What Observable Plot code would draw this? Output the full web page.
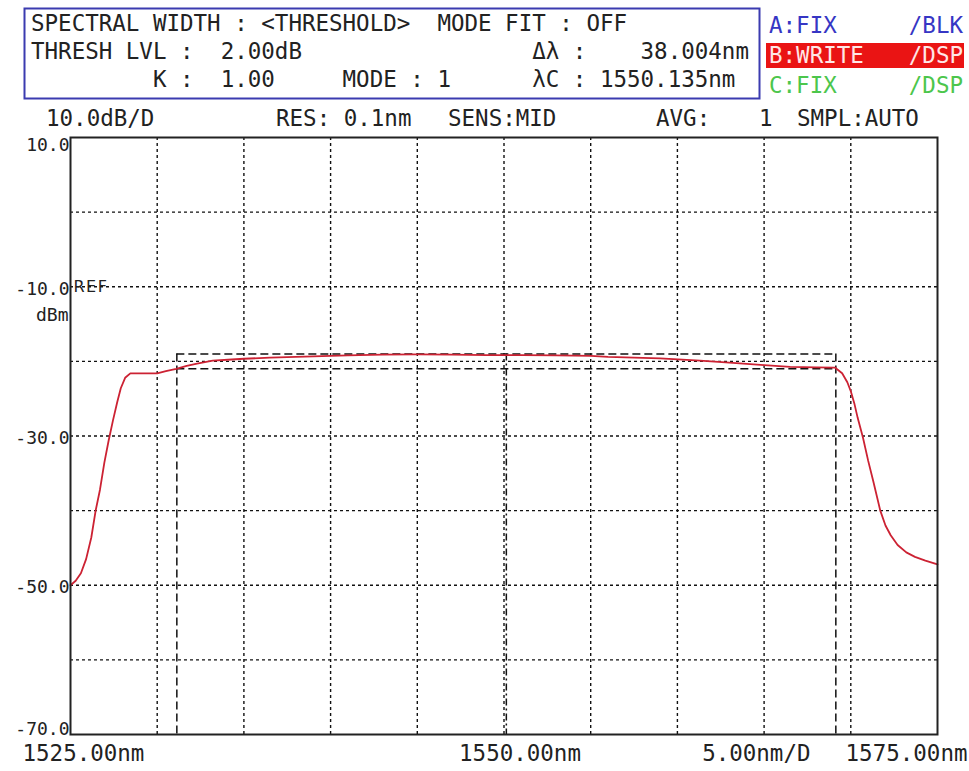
<!DOCTYPE html>
<html>
<head>
<meta charset="utf-8">
<script src="https://cdn.jsdelivr.net/npm/d3@7"></script>
<script src="https://cdn.jsdelivr.net/npm/@observablehq/plot@0.6"></script>
<style>
  body { margin: 0; background: #fff; }
  #chart { width: 969px; background: #fff; }
  #chart svg { display: block; }
</style>
</head>
<body>
<div id="chart"></div>
<script>
// ---------- data ----------
const wavelengths = [
  1525.00, 1525.30, 1525.60, 1525.90, 1526.20, 1526.45, 1526.70, 1526.95, 1527.20, 1527.45,
  1527.70, 1527.90, 1528.15, 1528.45, 1530.00, 1530.50, 1531.10, 1531.70, 1532.30, 1533.20,
  1534.30, 1535.00, 1536.50, 1538.00, 1539.50, 1541.00, 1543.00, 1545.00, 1547.00, 1549.00,
  1551.00, 1553.00, 1555.00, 1556.00, 1559.00, 1561.30, 1563.20, 1565.00, 1566.50, 1568.00,
  1569.10, 1569.50, 1569.80, 1570.00, 1570.20, 1570.40, 1570.70, 1571.00, 1571.30, 1571.70,
  1572.00, 1572.30, 1572.70, 1573.20, 1573.70, 1574.30, 1575.00
];
const powers = [
  -50.0, -49.4, -48.4, -46.5, -43.6, -40.0, -37.2, -33.6, -30.6, -27.9,
  -25.4, -23.6, -22.2, -21.6, -21.6, -21.3, -21.0, -20.6, -20.3, -19.9,
  -19.75, -19.65, -19.5, -19.4, -19.3, -19.2, -19.1, -19.05, -19.1, -19.15,
  -19.15, -19.2, -19.25, -19.4, -19.6, -19.9, -20.2, -20.5, -20.75, -20.8,
  -20.85, -21.6, -22.8, -24.0, -25.6, -27.6, -30.2, -33.3, -36.1, -40.0,
  -42.0, -43.3, -44.6, -45.6, -46.2, -46.7, -47.2
];

const xDomain = [1525, 1575];
const yDomain = [-70, 10];
const xGridTicks = [1530, 1535, 1540, 1545, 1550, 1555, 1560, 1565, 1570];
const yGridTicks = [0, -10, -20, -30, -40, -50, -60];
const yTickValues = [10, -10, -30, -50, -70];
const yTickLabels = ["10.0", "-10.0", "-30.0", "-50.0", "-70.0"];
const xTickValues = [1525, 1550, 1575];
const xTickLabels = ["1525.00nm", "1550.00nm", "1575.00nm"];
const xScaleLabel = "5.00nm/D";
const yUnit = "dBm";
const refLabel = "REF";
const refLevel = -10;

const centerWavelength = 1550.135;
const spectralWidth = 38.004;
const peakLevel = -19.0;
const threshLevel = 2.0;

const boxRows = [
  "SPECTRAL WIDTH : <THRESHOLD>  MODE FIT : OFF",
  "THRESH LVL :  2.00dB                 Δλ :    38.004nm",
  "         K :  1.00     MODE : 1      λC : 1550.135nm"
];
const statusItems = ["10.0dB/D", "RES: 0.1nm", "SENS:MID", "AVG:", "1", "SMPL:AUTO"];
const traceNames = ["A:FIX", "B:WRITE", "C:FIX"];
const traceModes = ["/BLK", "/DSP", "/DSP"];

// ---------- header (above the plot SVG) ----------
const mono = "'DejaVu Sans Mono', monospace";
const headerHeight = 134;
const header = d3.create("svg")
  .attr("width", 969).attr("height", headerHeight)
  .style("font-family", mono).style("font-size", "22.5px");

header.append("rect")
  .attr("x", 24.5).attr("y", 8.5).attr("width", 735).attr("height", 90)
  .attr("fill", "none").attr("stroke", "#3b3bb0").attr("stroke-width", 2);

const rowBaselines = [31, 59, 87];
boxRows.forEach((t, i) => {
  header.append("text")
    .attr("x", 31).attr("y", rowBaselines[i])
    .style("white-space", "pre").attr("fill", "#222").text(t);
});

const statusX = [46, 276, 448, 656, 759, 797];
statusItems.forEach((t, i) => {
  header.append("text")
    .attr("x", statusX[i]).attr("y", 126)
    .attr("fill", "#222").text(t);
});

const traceColors = ["#3636c4", "#ffe6e6", "#4cc64c"];
const traceBaselines = [33, 63, 93];
header.append("rect")
  .attr("x", 766).attr("y", 43).attr("width", 198).attr("height", 25)
  .attr("fill", "#ea1414");
traceNames.forEach((t, i) => {
  header.append("text")
    .attr("x", 769).attr("y", traceBaselines[i])
    .attr("fill", traceColors[i]).text(t);
  header.append("text")
    .attr("x", 963).attr("y", traceBaselines[i]).attr("text-anchor", "end")
    .attr("fill", traceColors[i]).text(traceModes[i]);
});

// ---------- plot ----------
const curve = wavelengths.map((w, i) => ({w, p: powers[i]}));
const lo = centerWavelength - spectralWidth / 2;
const hi = centerWavelength + spectralWidth / 2;
const threshY = peakLevel - threshLevel;
const yTicks = yTickValues.map((v, i) => ({v, label: yTickLabels[i]}));
const xTicks = xTickValues.map((v, i) => ({v, label: xTickLabels[i]}));

const gridStyle = {stroke: "#111", strokeWidth: 1.4, strokeDasharray: "3,3"};
const dashStyle = {stroke: "#111", strokeWidth: 1.5, strokeDasharray: "8,4"};
const labelFont = {fontFamily: mono, fill: "#222"};

const plot = Plot.plot({
  width: 969,
  height: 771 - headerHeight,
  marginTop: 3,
  marginBottom: 37,
  marginLeft: 70,
  marginRight: 32,
  x: {domain: xDomain, axis: null},
  y: {domain: yDomain, axis: null},
  style: {fontFamily: mono, background: "#fff", overflow: "visible"},
  marks: [
    Plot.ruleX(xGridTicks, {x: d => d, ...gridStyle}),
    Plot.ruleY(yGridTicks, {y: d => d, ...gridStyle}),
    Plot.ruleY([peakLevel, threshY], {y: d => d, x1: lo, x2: hi, ...dashStyle}),
    Plot.ruleX([lo, hi], {x: d => d, y1: peakLevel, y2: yDomain[0], ...dashStyle}),
    Plot.ruleX([centerWavelength], {x: d => d, y1: peakLevel, y2: yDomain[0],
      stroke: "#111", strokeWidth: 1.5, strokeDasharray: "7,3,2,3"}),
    Plot.line(curve, {x: "w", y: "p", stroke: "#cc2233", strokeWidth: 1.8}),
    Plot.frame({stroke: "#222", strokeWidth: 2}),
    // y tick labels
    Plot.text(yTicks.filter(d => d.v === yDomain[1]), {
      x: xDomain[0], y: "v", text: "label", textAnchor: "end", lineAnchor: "top",
      dx: -1, dy: 1, fontSize: 18, ...labelFont}),
    Plot.text(yTicks.filter(d => d.v !== yDomain[1] && d.v !== yDomain[0]), {
      x: xDomain[0], y: "v", text: "label", textAnchor: "end", lineAnchor: "middle",
      dx: -1, dy: 2, fontSize: 18, ...labelFont}),
    Plot.text(yTicks.filter(d => d.v === yDomain[0]), {
      x: xDomain[0], y: "v", text: "label", textAnchor: "end", lineAnchor: "bottom",
      dx: -1, dy: 0, fontSize: 18, ...labelFont}),
    Plot.text([yUnit], {x: xDomain[0], y: refLevel, text: d => d, textAnchor: "end",
      lineAnchor: "middle", dx: -2, dy: 28, fontSize: 18, ...labelFont}),
    Plot.text([refLabel], {x: xDomain[0], y: refLevel, text: d => d, textAnchor: "start",
      lineAnchor: "middle", dx: 3, dy: 0, fontSize: 16, fontFamily: "'DejaVu Sans', sans-serif",
      fill: "#222"}),
    // x labels
    Plot.text(xTicks.slice(0, 1), {x: "v", y: yDomain[0], text: "label", textAnchor: "start",
      lineAnchor: "middle", dx: -48, dy: 19, fontSize: 22.5, ...labelFont}),
    Plot.text(xTicks.slice(1, 2), {x: "v", y: yDomain[0], text: "label", textAnchor: "middle",
      lineAnchor: "middle", dx: 16, dy: 19, fontSize: 22.5, ...labelFont}),
    Plot.text(xTicks.slice(2, 3), {x: "v", y: yDomain[0], text: "label", textAnchor: "end",
      lineAnchor: "middle", dx: 30, dy: 19, fontSize: 22.5, ...labelFont}),
    Plot.text([xScaleLabel], {frameAnchor: "bottom-right", text: d => d, textAnchor: "end",
      lineAnchor: "middle", dx: -127, dy: 19, fontSize: 22.5, ...labelFont})
  ]
});

// widen the REF marker like the instrument font
d3.select(plot).selectAll("text")
  .filter(function () { return this.textContent === refLabel; })
  .style("font-size", "16px")
  .style("letter-spacing", "1.5px");

const chart = document.getElementById("chart");
chart.appendChild(header.node());
chart.appendChild(plot);
</script>
</body>
</html>
